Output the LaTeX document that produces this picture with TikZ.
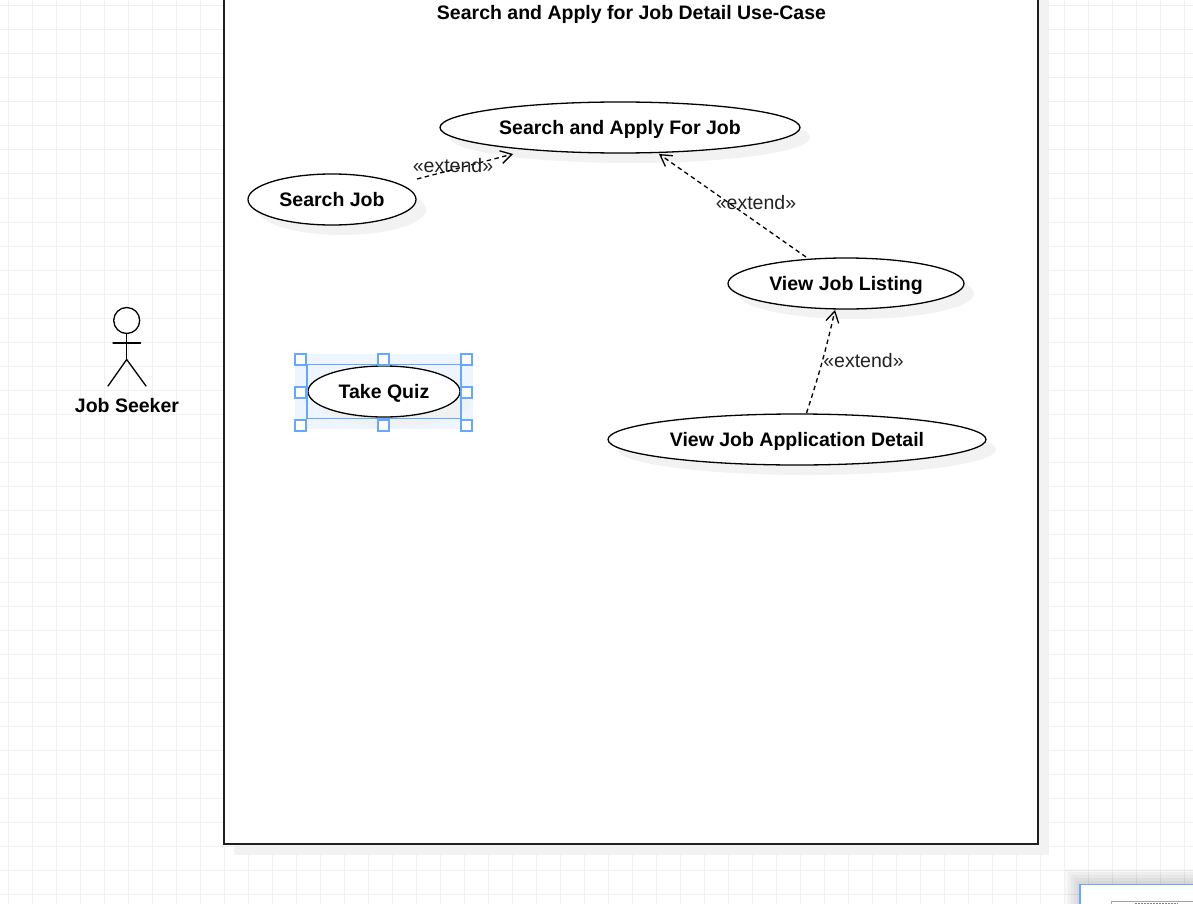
\documentclass[tikz,border=0pt]{standalone}
\usepackage{fontspec}
\setmainfont{Liberation Sans}
\usetikzlibrary{shapes.geometric,arrows.meta}
\definecolor{gridc}{HTML}{F0F0F0}
\definecolor{shadowc}{HTML}{F2F2F2}
\definecolor{selc}{HTML}{66A8FF}
\definecolor{selband}{HTML}{EEF5FF}
\definecolor{labelc}{HTML}{222222}
\tikzset{
  x=1pt,y=-1pt,
  usecase/.style={ellipse,draw=black,fill=white,line width=1.3pt,inner sep=0pt,outer sep=0pt,text height=14pt,text depth=0pt,font=\fontsize{19.5}{24}\selectfont\bfseries},
  caseshadow/.style={ellipse,fill=shadowc,inner sep=0pt,outer sep=0pt},
  extendline/.style={draw=black,line width=1.3pt,dash pattern=on 4.5pt off 3.5pt,-{Straight Barb[length=11pt,width=13pt,line width=1.3pt]}},
  extendlabel/.style={text=labelc,font=\fontsize{19.5}{24}\selectfont,inner sep=0pt},
  handle/.style={draw=selc,fill=white,line width=2pt,minimum size=11pt,inner sep=0pt,outer sep=0pt},
  actorline/.style={draw=black,line width=1.3pt,line cap=round},
  plainlabel/.style={font=\fontsize{19.5}{24}\selectfont\bfseries,inner sep=0pt,text height=14pt,text depth=0pt},
}
\begin{document}
\begin{tikzpicture}
\useasboundingbox (0,0) rectangle (1193,904);
\clip (0,0) rectangle (1193,904);
\fill[white] (0,0) rectangle (1193,904);
% grid
\foreach \gx in {8,32,...,1184} {\draw[gridc,line width=1pt] (\gx,0) -- (\gx,904);}
\foreach \gy in {6,30,...,894} {\draw[gridc,line width=1pt] (0,\gy) -- (1193,\gy);}
% frame
\fill[shadowc] (234,-10) rectangle (1049,855);
\node[draw=black!88,fill=white,line width=1.2pt,minimum width=814pt,minimum height=864pt,inner sep=0pt,outer sep=0pt] (frame) at (631,412) {};
\node[plainlabel] (title) at (631.5,12.5) {Search and Apply for Job Detail Use-Case};
% shadows
\node[caseshadow,minimum width=360pt,minimum height=51pt] (s1) at (630,137.5) {};
\node[caseshadow,minimum width=168pt,minimum height=51pt] (s2) at (342,209.5) {};
\node[caseshadow,minimum width=236pt,minimum height=51pt] (s3) at (856,293.5) {};
\node[caseshadow,minimum width=378pt,minimum height=51pt] (s4) at (807,449.5) {};
% selection band
\node[fill=selband,minimum width=178pt,minimum height=75pt,inner sep=0pt] (band) at (384,391.5) {};
\node[caseshadow,fill=gridc!80!selband,minimum width=152pt,minimum height=51pt] (s5) at (394,401.5) {};
% use cases
\node[usecase,minimum width=360pt,minimum height=51pt] (apply) at (620,127.5) {Search and Apply For Job};
\node[usecase,minimum width=168pt,minimum height=51pt] (search) at (332,199.5) {Search Job};
\node[usecase,minimum width=236pt,minimum height=51pt] (listing) at (846,283.5) {View Job Listing};
\node[usecase,minimum width=378pt,minimum height=51pt] (detail) at (797,439.5) {View Job Application Detail};
\node[usecase,minimum width=152pt,minimum height=51pt] (quiz) at (384,391.5) {Take Quiz};
% connectors
\coordinate (e1a) at (417,179);
\coordinate (e1b) at (513,154);
\coordinate (e2a) at (806,257);
\coordinate (e2b) at (659,154);
\coordinate (e3a) at (806.5,413);
\coordinate (e3b) at (835,310);
\path[extendline] (e1a) -- (e1b);
\path[extendline] (e2a) -- (e2b);
\path[extendline] (e3a) .. controls (818,378) and (826,350) .. (e3b);
\node[extendlabel] (l1) at (453,165.5) {«extend»};
\node[extendlabel] (l2) at (756,202.5) {«extend»};
\node[extendlabel] (l3) at (863.5,360.5) {«extend»};
% selection
\node[draw=selc,line width=1.3pt,minimum width=154pt,minimum height=54pt,inner sep=0pt,outer sep=0pt] (sel) at (384,391.5) {};
\node[handle] (h1) at (300.8,359) {};
\node[handle] (h2) at (383.8,359) {};
\node[handle] (h3) at (466.8,359) {};
\node[handle] (h4) at (300.8,392) {};
\node[handle] (h5) at (466.8,392) {};
\node[handle] (h6) at (300.8,425) {};
\node[handle] (h7) at (383.8,425) {};
\node[handle] (h8) at (466.8,425) {};
% actor
\node[circle,draw=black,fill=white,line width=1.3pt,minimum size=26pt,inner sep=0pt,outer sep=0pt] (head) at (126.7,320.5) {};
\coordinate (hip) at (126.7,359.5);
\coordinate (armL) at (113,343);
\coordinate (armR) at (140.5,343);
\coordinate (legL) at (108,386);
\coordinate (legR) at (146,386);
\draw[actorline] (head.south) -- (hip);
\draw[actorline] (armL) -- (armR);
\draw[actorline] (legL) -- (hip) -- (legR);
\node[plainlabel] (actorlabel) at (127,405) {Job Seeker};
% thumbnail panel
\foreach \i in {1,2,3,4,5} {\fill[black,opacity=0.03] (1080-\i*3,884-\i*3) rectangle (1200,910);}
\node[draw=selc,fill=white,line width=1.6pt,minimum width=130pt,minimum height=40pt,anchor=north west,inner sep=0pt,outer sep=0pt] (panel) at (1080,884.5) {};
\draw[black!35,line width=1pt] (1111,904) -- (1111,901.5) -- (1193,901.5);
\draw[black!50,line width=1pt,dash pattern=on 2pt off 1pt] (1135,903.5) -- (1178,903.5);
\end{tikzpicture}
\end{document}
